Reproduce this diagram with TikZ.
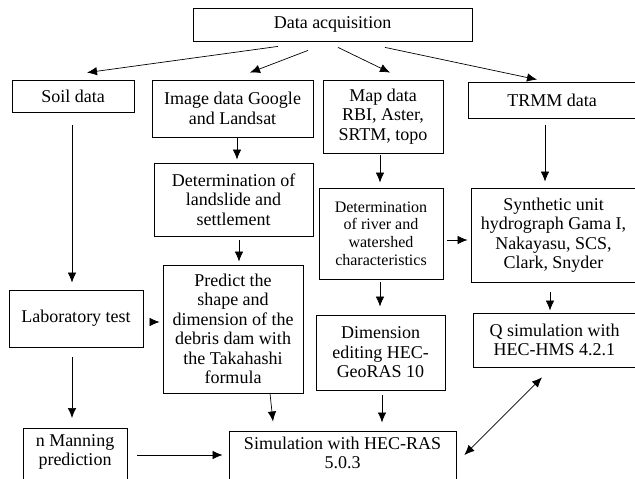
\documentclass[tikz,border=0pt]{standalone}
\usepackage{fontspec}
\setmainfont{Liberation Serif}
\usetikzlibrary{arrows.meta}

\begin{document}
\begin{tikzpicture}[x=1pt, y=-1pt, >={Latex[length=10pt,width=8.5pt]}, ->, line width=0.7pt,
      every node/.append style={font=\fontsize{18}{19.5}\selectfont}]
    \tikzstyle{box} = [draw, -, align=center, inner sep=0pt, line width=0.8pt]
    \tikzstyle{openbox} = [box, anchor=north, inner ysep=6pt, text depth=40pt]
    \useasboundingbox (0,0) rectangle (635,479);
    \clip (0,0) rectangle (635,479);
    \node (acq) [box, minimum width=279pt, minimum height=33pt] at (332.5,24.5) {Data acquisition};
    \node (soil) [box, minimum width=122pt, minimum height=32pt] at (73,96) {Soil data};
    \node (image) [box, minimum width=161pt, minimum height=57pt] at (232.5,108.5) {Image data Google\\and Landsat};
    \node (map) [box, minimum width=120pt, minimum height=73pt] at (383,116.5) {Map data\\RBI, Aster,\\SRTM, topo};
    \node (trmm) [box, minimum width=168pt, minimum height=36pt] at (552,100) {TRMM data};
    \node (land) [box, minimum width=159pt, minimum height=73pt] at (233.5,199.5) {Determination of\\landslide and\\settlement};
    \node (river) [box, minimum width=124pt, minimum height=91pt, font=\fontsize{16}{17.7}\selectfont] at (381,233.5) {Determination\\of river and\\watershed\\characteristics};
    \node (synth) [box, minimum width=165pt, minimum height=94pt] at (553.5,235) {Synthetic unit\\hydrograph Gama I,\\Nakayasu, SCS,\\Clark, Snyder};
    \node (lab) [box, minimum width=134pt, minimum height=57pt] at (76,318.5) {Laboratory test};
    \node (predict) [box, minimum width=140pt, minimum height=128pt] at (233,329) {Predict the\\shape and\\dimension of the\\debris dam with\\the Takahashi\\formula};
    \node (dim) [box, minimum width=129pt, minimum height=75pt] at (380.5,352.5) {Dimension\\editing HEC-\\GeoRAS 10};
    \node (q) [box, minimum width=163pt, minimum height=54pt] at (554.5,340) {Q simulation with\\HEC-HMS 4.2.1};
    \node (manning) [openbox, minimum width=104pt] at (75,428) {n Manning\\prediction};
    \node (sim) [openbox, minimum width=227pt] at (342.5,430.5) {Simulation with HEC-RAS\\5.0.3};
    \draw ([shift={(-54.5,5)}]acq.south) -- ([shift={(14,-7)}]soil.north);
    \draw ([shift={(-24.5,9)}]acq.south) -- ([shift={(17.5,-7)}]image.north);
    \draw ([shift={(5.5,6)}]acq.south) -- ([shift={(7,-7)}]map.north);
    \draw ([shift={(52.5,6)}]acq.south) -- ([shift={(-15,-2)}]trmm.north);
    \draw ([shift={(-1,13)}]soil.south) -- ([shift={(-4,-7)}]lab.north);
    \draw ([shift={(4.5,0)}]image.south) -- ([shift={(3.5,-3)}]land.north);
    \draw ([shift={(5.5,4)}]land.south) -- ([shift={(6,-3)}]predict.north);
    \draw ([shift={(-3,2)}]map.south) -- ([shift={(-1,-5)}]river.north);
    \draw ([shift={(-7,7)}]trmm.south) -- ([shift={(-8.5,-6)}]synth.north);
    \draw ([shift={(4,6.5)}]river.east) -- ([shift={(-3,5)}]synth.west);
    \draw ([shift={(-3.5,10)}]synth.south) -- ([shift={(-4.5,-2)}]q.north);
    \draw ([shift={(-1,3)}]river.south) -- ([shift={(-0.5,-8)}]dim.north);
    \draw ([shift={(1.5,5)}]dim.south) -- ([shift={(39.5,-8)}]sim.north);
    \draw ([shift={(37,0)}]predict.south) -- ([shift={(-69.5,-9)}]sim.north);
    \draw ([shift={(7,3.5)}]lab.east) -- ([shift={(-3,-7)}]predict.west);
    \draw ([shift={(-4,10)}]lab.south) -- ([shift={(-3,-10)}]manning.north);
    \draw ([shift={(10,27)}]manning.north east) -- ([shift={(-6,24.5)}]sim.north west);
    \draw[<->] ([shift={(8,24.5)}]sim.north east) -- ([shift={(-12.5,10)}]q.south);
  \end{tikzpicture}
\end{document}
